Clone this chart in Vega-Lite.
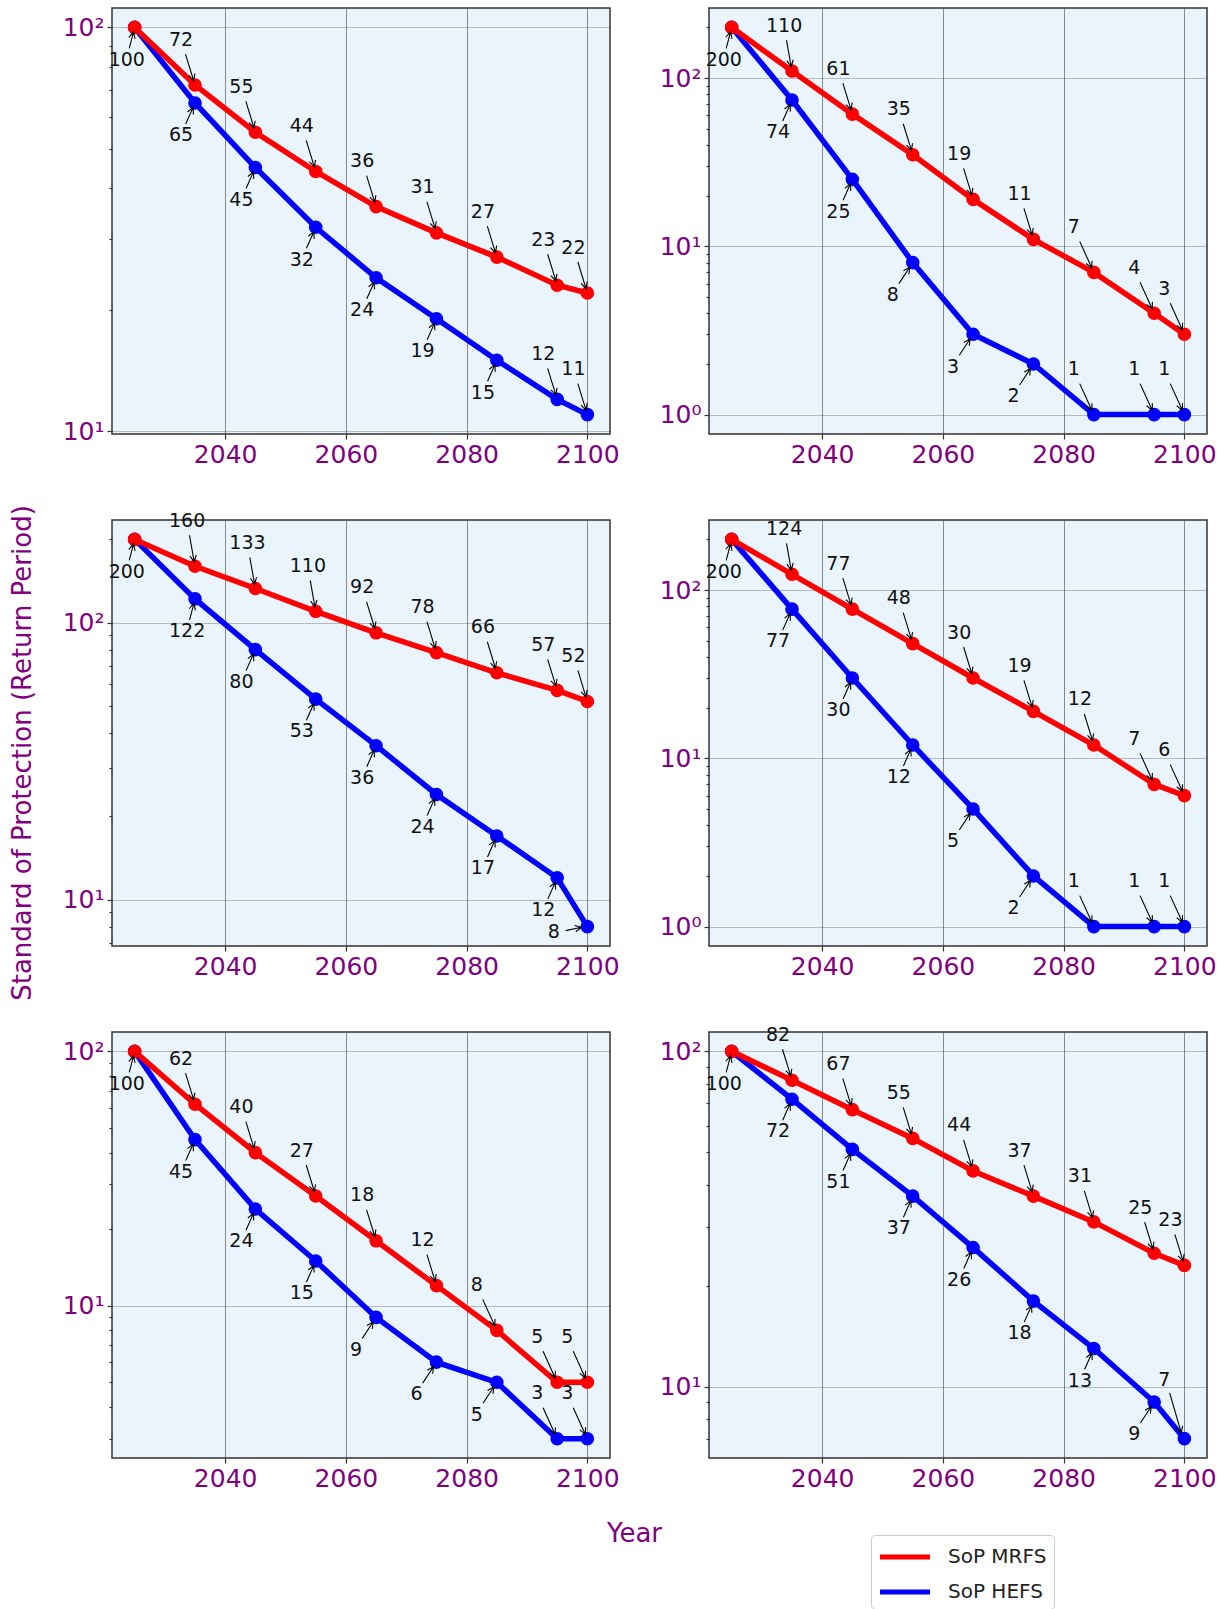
{
  "$schema": "https://vega.github.io/schema/vega-lite/v6.json",
  "background": "white",
  "padding": {"left": 8, "top": 7, "right": 5, "bottom": 5},
  "bounds": "flush",
  "columns": 2,
  "spacing": {"row": 86, "column": 99},
  "datasets": {
    "sop": [
      {"panel": 1, "series": "SoP HEFS", "year": 2025, "v": 100, "pos": "below"},
      {"panel": 1, "series": "SoP HEFS", "year": 2035, "v": 65, "pos": "below"},
      {"panel": 1, "series": "SoP HEFS", "year": 2045, "v": 45, "pos": "below"},
      {"panel": 1, "series": "SoP HEFS", "year": 2055, "v": 32, "pos": "below"},
      {"panel": 1, "series": "SoP HEFS", "year": 2065, "v": 24, "pos": "below"},
      {"panel": 1, "series": "SoP HEFS", "year": 2075, "v": 19, "pos": "below"},
      {"panel": 1, "series": "SoP HEFS", "year": 2085, "v": 15, "pos": "below"},
      {"panel": 1, "series": "SoP HEFS", "year": 2095, "v": 12, "pos": "above"},
      {"panel": 1, "series": "SoP HEFS", "year": 2100, "v": 11, "pos": "above"},
      {"panel": 1, "series": "SoP MRFS", "year": 2025, "v": 100, "pos": "none"},
      {"panel": 1, "series": "SoP MRFS", "year": 2035, "v": 72, "pos": "above"},
      {"panel": 1, "series": "SoP MRFS", "year": 2045, "v": 55, "pos": "above"},
      {"panel": 1, "series": "SoP MRFS", "year": 2055, "v": 44, "pos": "above"},
      {"panel": 1, "series": "SoP MRFS", "year": 2065, "v": 36, "pos": "above"},
      {"panel": 1, "series": "SoP MRFS", "year": 2075, "v": 31, "pos": "above"},
      {"panel": 1, "series": "SoP MRFS", "year": 2085, "v": 27, "pos": "above"},
      {"panel": 1, "series": "SoP MRFS", "year": 2095, "v": 23, "pos": "above"},
      {"panel": 1, "series": "SoP MRFS", "year": 2100, "v": 22, "pos": "above"},

      {"panel": 2, "series": "SoP HEFS", "year": 2025, "v": 200, "pos": "below"},
      {"panel": 2, "series": "SoP HEFS", "year": 2035, "v": 74, "pos": "below"},
      {"panel": 2, "series": "SoP HEFS", "year": 2045, "v": 25, "pos": "below"},
      {"panel": 2, "series": "SoP HEFS", "year": 2055, "v": 8, "pos": "below"},
      {"panel": 2, "series": "SoP HEFS", "year": 2065, "v": 3, "pos": "below"},
      {"panel": 2, "series": "SoP HEFS", "year": 2075, "v": 2, "pos": "below"},
      {"panel": 2, "series": "SoP HEFS", "year": 2085, "v": 1, "pos": "above"},
      {"panel": 2, "series": "SoP HEFS", "year": 2095, "v": 1, "pos": "above"},
      {"panel": 2, "series": "SoP HEFS", "year": 2100, "v": 1, "pos": "above"},
      {"panel": 2, "series": "SoP MRFS", "year": 2025, "v": 200, "pos": "none"},
      {"panel": 2, "series": "SoP MRFS", "year": 2035, "v": 110, "pos": "above"},
      {"panel": 2, "series": "SoP MRFS", "year": 2045, "v": 61, "pos": "above"},
      {"panel": 2, "series": "SoP MRFS", "year": 2055, "v": 35, "pos": "above"},
      {"panel": 2, "series": "SoP MRFS", "year": 2065, "v": 19, "pos": "above"},
      {"panel": 2, "series": "SoP MRFS", "year": 2075, "v": 11, "pos": "above"},
      {"panel": 2, "series": "SoP MRFS", "year": 2085, "v": 7, "pos": "above"},
      {"panel": 2, "series": "SoP MRFS", "year": 2095, "v": 4, "pos": "above"},
      {"panel": 2, "series": "SoP MRFS", "year": 2100, "v": 3, "pos": "above"},

      {"panel": 3, "series": "SoP HEFS", "year": 2025, "v": 200, "pos": "below"},
      {"panel": 3, "series": "SoP HEFS", "year": 2035, "v": 122, "pos": "below"},
      {"panel": 3, "series": "SoP HEFS", "year": 2045, "v": 80, "pos": "below"},
      {"panel": 3, "series": "SoP HEFS", "year": 2055, "v": 53, "pos": "below"},
      {"panel": 3, "series": "SoP HEFS", "year": 2065, "v": 36, "pos": "below"},
      {"panel": 3, "series": "SoP HEFS", "year": 2075, "v": 24, "pos": "below"},
      {"panel": 3, "series": "SoP HEFS", "year": 2085, "v": 17, "pos": "below"},
      {"panel": 3, "series": "SoP HEFS", "year": 2095, "v": 12, "pos": "below"},
      {"panel": 3, "series": "SoP HEFS", "year": 2100, "v": 8, "pos": "left"},
      {"panel": 3, "series": "SoP MRFS", "year": 2025, "v": 200, "pos": "none"},
      {"panel": 3, "series": "SoP MRFS", "year": 2035, "v": 160, "pos": "above"},
      {"panel": 3, "series": "SoP MRFS", "year": 2045, "v": 133, "pos": "above"},
      {"panel": 3, "series": "SoP MRFS", "year": 2055, "v": 110, "pos": "above"},
      {"panel": 3, "series": "SoP MRFS", "year": 2065, "v": 92, "pos": "above"},
      {"panel": 3, "series": "SoP MRFS", "year": 2075, "v": 78, "pos": "above"},
      {"panel": 3, "series": "SoP MRFS", "year": 2085, "v": 66, "pos": "above"},
      {"panel": 3, "series": "SoP MRFS", "year": 2095, "v": 57, "pos": "above"},
      {"panel": 3, "series": "SoP MRFS", "year": 2100, "v": 52, "pos": "above"},

      {"panel": 4, "series": "SoP HEFS", "year": 2025, "v": 200, "pos": "below"},
      {"panel": 4, "series": "SoP HEFS", "year": 2035, "v": 77, "pos": "below"},
      {"panel": 4, "series": "SoP HEFS", "year": 2045, "v": 30, "pos": "below"},
      {"panel": 4, "series": "SoP HEFS", "year": 2055, "v": 12, "pos": "below"},
      {"panel": 4, "series": "SoP HEFS", "year": 2065, "v": 5, "pos": "below"},
      {"panel": 4, "series": "SoP HEFS", "year": 2075, "v": 2, "pos": "below"},
      {"panel": 4, "series": "SoP HEFS", "year": 2085, "v": 1, "pos": "above"},
      {"panel": 4, "series": "SoP HEFS", "year": 2095, "v": 1, "pos": "above"},
      {"panel": 4, "series": "SoP HEFS", "year": 2100, "v": 1, "pos": "above"},
      {"panel": 4, "series": "SoP MRFS", "year": 2025, "v": 200, "pos": "none"},
      {"panel": 4, "series": "SoP MRFS", "year": 2035, "v": 124, "pos": "above"},
      {"panel": 4, "series": "SoP MRFS", "year": 2045, "v": 77, "pos": "above"},
      {"panel": 4, "series": "SoP MRFS", "year": 2055, "v": 48, "pos": "above"},
      {"panel": 4, "series": "SoP MRFS", "year": 2065, "v": 30, "pos": "above"},
      {"panel": 4, "series": "SoP MRFS", "year": 2075, "v": 19, "pos": "above"},
      {"panel": 4, "series": "SoP MRFS", "year": 2085, "v": 12, "pos": "above"},
      {"panel": 4, "series": "SoP MRFS", "year": 2095, "v": 7, "pos": "above"},
      {"panel": 4, "series": "SoP MRFS", "year": 2100, "v": 6, "pos": "above"},

      {"panel": 5, "series": "SoP HEFS", "year": 2025, "v": 100, "pos": "below"},
      {"panel": 5, "series": "SoP HEFS", "year": 2035, "v": 45, "pos": "below"},
      {"panel": 5, "series": "SoP HEFS", "year": 2045, "v": 24, "pos": "below"},
      {"panel": 5, "series": "SoP HEFS", "year": 2055, "v": 15, "pos": "below"},
      {"panel": 5, "series": "SoP HEFS", "year": 2065, "v": 9, "pos": "below"},
      {"panel": 5, "series": "SoP HEFS", "year": 2075, "v": 6, "pos": "below"},
      {"panel": 5, "series": "SoP HEFS", "year": 2085, "v": 5, "pos": "below"},
      {"panel": 5, "series": "SoP HEFS", "year": 2095, "v": 3, "pos": "above"},
      {"panel": 5, "series": "SoP HEFS", "year": 2100, "v": 3, "pos": "above"},
      {"panel": 5, "series": "SoP MRFS", "year": 2025, "v": 100, "pos": "none"},
      {"panel": 5, "series": "SoP MRFS", "year": 2035, "v": 62, "pos": "above"},
      {"panel": 5, "series": "SoP MRFS", "year": 2045, "v": 40, "pos": "above"},
      {"panel": 5, "series": "SoP MRFS", "year": 2055, "v": 27, "pos": "above"},
      {"panel": 5, "series": "SoP MRFS", "year": 2065, "v": 18, "pos": "above"},
      {"panel": 5, "series": "SoP MRFS", "year": 2075, "v": 12, "pos": "above"},
      {"panel": 5, "series": "SoP MRFS", "year": 2085, "v": 8, "pos": "above"},
      {"panel": 5, "series": "SoP MRFS", "year": 2095, "v": 5, "pos": "above"},
      {"panel": 5, "series": "SoP MRFS", "year": 2100, "v": 5, "pos": "above"},

      {"panel": 6, "series": "SoP HEFS", "year": 2025, "v": 100, "pos": "below"},
      {"panel": 6, "series": "SoP HEFS", "year": 2035, "v": 72, "pos": "below"},
      {"panel": 6, "series": "SoP HEFS", "year": 2045, "v": 51, "pos": "below"},
      {"panel": 6, "series": "SoP HEFS", "year": 2055, "v": 37, "pos": "below"},
      {"panel": 6, "series": "SoP HEFS", "year": 2065, "v": 26, "pos": "below"},
      {"panel": 6, "series": "SoP HEFS", "year": 2075, "v": 18, "pos": "below"},
      {"panel": 6, "series": "SoP HEFS", "year": 2085, "v": 13, "pos": "below"},
      {"panel": 6, "series": "SoP HEFS", "year": 2095, "v": 9, "pos": "below"},
      {"panel": 6, "series": "SoP HEFS", "year": 2100, "v": 7, "pos": "high"},
      {"panel": 6, "series": "SoP MRFS", "year": 2025, "v": 100, "pos": "none"},
      {"panel": 6, "series": "SoP MRFS", "year": 2035, "v": 82, "pos": "above"},
      {"panel": 6, "series": "SoP MRFS", "year": 2045, "v": 67, "pos": "above"},
      {"panel": 6, "series": "SoP MRFS", "year": 2055, "v": 55, "pos": "above"},
      {"panel": 6, "series": "SoP MRFS", "year": 2065, "v": 44, "pos": "above"},
      {"panel": 6, "series": "SoP MRFS", "year": 2075, "v": 37, "pos": "above"},
      {"panel": 6, "series": "SoP MRFS", "year": 2085, "v": 31, "pos": "above"},
      {"panel": 6, "series": "SoP MRFS", "year": 2095, "v": 25, "pos": "above"},
      {"panel": 6, "series": "SoP MRFS", "year": 2100, "v": 23, "pos": "above"}
    ]
  },
  "data": {"name": "sop"},
  "concat": [
    {
      "width": 498, "height": 426,
      "transform": [{"filter": "datum.panel == 1"}],
      "encoding": {
        "x": {"field": "year", "type": "quantitative", "scale": {"domain": [2021.25, 2103.75], "nice": false, "zero": false},
              "axis": {"values": [2040, 2060, 2080, 2100], "format": "d", "title": null, "labelFlush": false, "labelOverlap": false, "tickSize": 5, "labelPadding": 3}},
        "y": {"field": "v", "type": "quantitative", "scale": {"type": "log", "domain": [9.85, 111.7], "nice": false},
              "axis": {"values": [10, 20, 30, 40, 50, 60, 70, 80, 90, 100], "title": null,
                       "labelExpr": "datum.value == 1 ? '10⁰' : datum.value == 10 ? '10¹' : datum.value == 100 ? '10²' : ''",
                       "tickSize": {"condition": {"test": "datum.value == 1 || datum.value == 10 || datum.value == 100", "value": 5}, "value": 3},
                       "gridOpacity": {"condition": {"test": "datum.value == 1 || datum.value == 10 || datum.value == 100", "value": 0.55}, "value": 0},
                       "labelOverlap": false, "labelFlush": false, "labelPadding": 3}}
      },
      "layer": [
        {"mark": {"type": "line", "strokeWidth": 5.5, "point": {"filled": true, "size": 185, "opacity": 1}},
         "encoding": {"color": {"field": "series", "type": "nominal", "scale": {"domain": ["SoP MRFS", "SoP HEFS"], "range": ["#ff0000", "#0000ff"]},
                                "legend": {"title": null, "orient": "none", "legendX": 759, "legendY": 1527, "symbolType": "M-2,0H2", "symbolStrokeWidth": 5, "symbolSize": 625, "symbolOffset": 12, "labelFontSize": 20, "labelFont": "DejaVu Sans", "labelColor": "#222", "strokeColor": "#cccccc", "fillColor": "white", "padding": 7, "cornerRadius": 4, "labelOffset": 28, "rowPadding": 10}}}},
        {"transform": [{"filter": "datum.pos != 'none'"}],
         "mark": {"type": "point", "size": 4, "filled": false, "stroke": "black", "strokeWidth": 1.1, "opacity": 1},
         "encoding": {"shape": {"condition": [
           {"test": "datum.pos == 'above' && datum.v < 10", "value": "M-14.1,-31L-2,-4.3M-1.8,-11.5L-2,-4.3L-7.6,-8.9"},
           {"test": "datum.pos == 'above' && datum.v < 100", "value": "M-9.5,-31L-1.3,-4.3M-0.2,-11.5L-1.3,-4.3L-6.3,-9.6"},
           {"test": "datum.pos == 'above'", "value": "M-5.5,-31L-0.8,-4.3M1.2,-11.3L-0.8,-4.3L-5.1,-10.2"},
           {"test": "datum.pos == 'below' && datum.v < 10", "value": "M-13.8,21L-2.9,4.4M-9.2,8.1L-2.9,4.4L-3.8,11.6"},
           {"test": "datum.pos == 'below' && datum.v < 100", "value": "M-9.3,21L-1.9,4.4M-7.5,9L-1.9,4.4L-1.6,11.6"},
           {"test": "datum.pos == 'below'", "value": "M-5.4,21L-1.1,4.4M-5.8,9.9L-1.1,4.4L0.4,11.5"},
           {"test": "datum.pos == 'left'", "value": "M-21.7,4L-5.9,0.6M-12.9,-1.2L-5.9,0.6L-11.6,5.1"}],
           "value": "M-14.7,-45.7L-3.1,-5.7M-1.8,-12.8L-3.1,-5.7L-8,-11.1"}}},
        {"transform": [{"filter": "datum.pos == 'above'"}], "mark": {"type": "text", "align": "left", "baseline": "middle", "dx": -26, "dy": -45.5, "fontSize": 19, "font": "DejaVu Sans", "color": "#111"}, "encoding": {"text": {"field": "v", "type": "quantitative", "format": "d"}}},
        {"transform": [{"filter": "datum.pos == 'below'"}], "mark": {"type": "text", "align": "left", "baseline": "middle", "dx": -26, "dy": 32.3, "fontSize": 19, "font": "DejaVu Sans", "color": "#111"}, "encoding": {"text": {"field": "v", "type": "quantitative", "format": "d"}}},
        {"transform": [{"filter": "datum.pos == 'left'"}], "mark": {"type": "text", "align": "left", "baseline": "middle", "dx": -39.6, "dy": 5.6, "fontSize": 19, "font": "DejaVu Sans", "color": "#111"}, "encoding": {"text": {"field": "v", "type": "quantitative", "format": "d"}}},
        {"transform": [{"filter": "datum.pos == 'high'"}], "mark": {"type": "text", "align": "left", "baseline": "middle", "dx": -26, "dy": -59, "fontSize": 19, "font": "DejaVu Sans", "color": "#111"}, "encoding": {"text": {"field": "v", "type": "quantitative", "format": "d"}}}
      ]
    },
    {
      "width": 498, "height": 426,
      "transform": [{"filter": "datum.panel == 2"}],
      "encoding": {
        "x": {"field": "year", "type": "quantitative", "scale": {"domain": [2021.25, 2103.75], "nice": false, "zero": false},
              "axis": {"values": [2040, 2060, 2080, 2100], "format": "d", "title": null, "labelFlush": false, "labelOverlap": false, "tickSize": 5, "labelPadding": 3}},
        "y": {"field": "v", "type": "quantitative", "scale": {"type": "log", "domain": [0.767, 260.6], "nice": false},
              "axis": {"values": [1, 2, 3, 4, 5, 6, 7, 8, 9, 10, 20, 30, 40, 50, 60, 70, 80, 90, 100, 200], "title": null,
                       "labelExpr": "datum.value == 1 ? '10⁰' : datum.value == 10 ? '10¹' : datum.value == 100 ? '10²' : ''",
                       "tickSize": {"condition": {"test": "datum.value == 1 || datum.value == 10 || datum.value == 100", "value": 5}, "value": 3},
                       "gridOpacity": {"condition": {"test": "datum.value == 1 || datum.value == 10 || datum.value == 100", "value": 0.55}, "value": 0},
                       "labelOverlap": false, "labelFlush": false, "labelPadding": 3}}
      },
      "layer": [
        {"mark": {"type": "line", "strokeWidth": 5.5, "point": {"filled": true, "size": 185, "opacity": 1}},
         "encoding": {"color": {"field": "series", "type": "nominal", "scale": {"domain": ["SoP MRFS", "SoP HEFS"], "range": ["#ff0000", "#0000ff"]},
                                "legend": {"title": null, "orient": "none", "legendX": 759, "legendY": 1527, "symbolType": "M-2,0H2", "symbolStrokeWidth": 5, "symbolSize": 625, "symbolOffset": 12, "labelFontSize": 20, "labelFont": "DejaVu Sans", "labelColor": "#222", "strokeColor": "#cccccc", "fillColor": "white", "padding": 7, "cornerRadius": 4, "labelOffset": 28, "rowPadding": 10}}}},
        {"transform": [{"filter": "datum.pos != 'none'"}],
         "mark": {"type": "point", "size": 4, "filled": false, "stroke": "black", "strokeWidth": 1.1, "opacity": 1},
         "encoding": {"shape": {"condition": [
           {"test": "datum.pos == 'above' && datum.v < 10", "value": "M-14.1,-31L-2,-4.3M-1.8,-11.5L-2,-4.3L-7.6,-8.9"},
           {"test": "datum.pos == 'above' && datum.v < 100", "value": "M-9.5,-31L-1.3,-4.3M-0.2,-11.5L-1.3,-4.3L-6.3,-9.6"},
           {"test": "datum.pos == 'above'", "value": "M-5.5,-31L-0.8,-4.3M1.2,-11.3L-0.8,-4.3L-5.1,-10.2"},
           {"test": "datum.pos == 'below' && datum.v < 10", "value": "M-13.8,21L-2.9,4.4M-9.2,8.1L-2.9,4.4L-3.8,11.6"},
           {"test": "datum.pos == 'below' && datum.v < 100", "value": "M-9.3,21L-1.9,4.4M-7.5,9L-1.9,4.4L-1.6,11.6"},
           {"test": "datum.pos == 'below'", "value": "M-5.4,21L-1.1,4.4M-5.8,9.9L-1.1,4.4L0.4,11.5"},
           {"test": "datum.pos == 'left'", "value": "M-21.7,4L-5.9,0.6M-12.9,-1.2L-5.9,0.6L-11.6,5.1"}],
           "value": "M-14.7,-45.7L-3.1,-5.7M-1.8,-12.8L-3.1,-5.7L-8,-11.1"}}},
        {"transform": [{"filter": "datum.pos == 'above'"}], "mark": {"type": "text", "align": "left", "baseline": "middle", "dx": -26, "dy": -45.5, "fontSize": 19, "font": "DejaVu Sans", "color": "#111"}, "encoding": {"text": {"field": "v", "type": "quantitative", "format": "d"}}},
        {"transform": [{"filter": "datum.pos == 'below'"}], "mark": {"type": "text", "align": "left", "baseline": "middle", "dx": -26, "dy": 32.3, "fontSize": 19, "font": "DejaVu Sans", "color": "#111"}, "encoding": {"text": {"field": "v", "type": "quantitative", "format": "d"}}},
        {"transform": [{"filter": "datum.pos == 'left'"}], "mark": {"type": "text", "align": "left", "baseline": "middle", "dx": -39.6, "dy": 5.6, "fontSize": 19, "font": "DejaVu Sans", "color": "#111"}, "encoding": {"text": {"field": "v", "type": "quantitative", "format": "d"}}},
        {"transform": [{"filter": "datum.pos == 'high'"}], "mark": {"type": "text", "align": "left", "baseline": "middle", "dx": -26, "dy": -59, "fontSize": 19, "font": "DejaVu Sans", "color": "#111"}, "encoding": {"text": {"field": "v", "type": "quantitative", "format": "d"}}}
      ]
    },
    {
      "width": 498, "height": 426,
      "transform": [{"filter": "datum.panel == 3"}],
      "encoding": {
        "x": {"field": "year", "type": "quantitative", "scale": {"domain": [2021.25, 2103.75], "nice": false, "zero": false},
              "axis": {"values": [2040, 2060, 2080, 2100], "format": "d", "title": null, "labelFlush": false, "labelOverlap": false, "tickSize": 5, "labelPadding": 3}},
        "y": {"field": "v", "type": "quantitative", "scale": {"type": "log", "domain": [6.81, 235], "nice": false},
              "axis": {"values": [7, 8, 9, 10, 20, 30, 40, 50, 60, 70, 80, 90, 100, 200],
                       "title": "Standard of Protection (Return Period)", "titleX": -90, "titleY": 232.5, "titleAngle": -90, "titleAlign": "center", "titleBaseline": "middle",
                       "labelExpr": "datum.value == 1 ? '10⁰' : datum.value == 10 ? '10¹' : datum.value == 100 ? '10²' : ''",
                       "tickSize": {"condition": {"test": "datum.value == 1 || datum.value == 10 || datum.value == 100", "value": 5}, "value": 3},
                       "gridOpacity": {"condition": {"test": "datum.value == 1 || datum.value == 10 || datum.value == 100", "value": 0.55}, "value": 0},
                       "labelOverlap": false, "labelFlush": false, "labelPadding": 3}}
      },
      "layer": [
        {"mark": {"type": "line", "strokeWidth": 5.5, "point": {"filled": true, "size": 185, "opacity": 1}},
         "encoding": {"color": {"field": "series", "type": "nominal", "scale": {"domain": ["SoP MRFS", "SoP HEFS"], "range": ["#ff0000", "#0000ff"]},
                                "legend": {"title": null, "orient": "none", "legendX": 759, "legendY": 1527, "symbolType": "M-2,0H2", "symbolStrokeWidth": 5, "symbolSize": 625, "symbolOffset": 12, "labelFontSize": 20, "labelFont": "DejaVu Sans", "labelColor": "#222", "strokeColor": "#cccccc", "fillColor": "white", "padding": 7, "cornerRadius": 4, "labelOffset": 28, "rowPadding": 10}}}},
        {"transform": [{"filter": "datum.pos != 'none'"}],
         "mark": {"type": "point", "size": 4, "filled": false, "stroke": "black", "strokeWidth": 1.1, "opacity": 1},
         "encoding": {"shape": {"condition": [
           {"test": "datum.pos == 'above' && datum.v < 10", "value": "M-14.1,-31L-2,-4.3M-1.8,-11.5L-2,-4.3L-7.6,-8.9"},
           {"test": "datum.pos == 'above' && datum.v < 100", "value": "M-9.5,-31L-1.3,-4.3M-0.2,-11.5L-1.3,-4.3L-6.3,-9.6"},
           {"test": "datum.pos == 'above'", "value": "M-5.5,-31L-0.8,-4.3M1.2,-11.3L-0.8,-4.3L-5.1,-10.2"},
           {"test": "datum.pos == 'below' && datum.v < 10", "value": "M-13.8,21L-2.9,4.4M-9.2,8.1L-2.9,4.4L-3.8,11.6"},
           {"test": "datum.pos == 'below' && datum.v < 100", "value": "M-9.3,21L-1.9,4.4M-7.5,9L-1.9,4.4L-1.6,11.6"},
           {"test": "datum.pos == 'below'", "value": "M-5.4,21L-1.1,4.4M-5.8,9.9L-1.1,4.4L0.4,11.5"},
           {"test": "datum.pos == 'left'", "value": "M-21.7,4L-5.9,0.6M-12.9,-1.2L-5.9,0.6L-11.6,5.1"}],
           "value": "M-14.7,-45.7L-3.1,-5.7M-1.8,-12.8L-3.1,-5.7L-8,-11.1"}}},
        {"transform": [{"filter": "datum.pos == 'above'"}], "mark": {"type": "text", "align": "left", "baseline": "middle", "dx": -26, "dy": -45.5, "fontSize": 19, "font": "DejaVu Sans", "color": "#111"}, "encoding": {"text": {"field": "v", "type": "quantitative", "format": "d"}}},
        {"transform": [{"filter": "datum.pos == 'below'"}], "mark": {"type": "text", "align": "left", "baseline": "middle", "dx": -26, "dy": 32.3, "fontSize": 19, "font": "DejaVu Sans", "color": "#111"}, "encoding": {"text": {"field": "v", "type": "quantitative", "format": "d"}}},
        {"transform": [{"filter": "datum.pos == 'left'"}], "mark": {"type": "text", "align": "left", "baseline": "middle", "dx": -39.6, "dy": 5.6, "fontSize": 19, "font": "DejaVu Sans", "color": "#111"}, "encoding": {"text": {"field": "v", "type": "quantitative", "format": "d"}}},
        {"transform": [{"filter": "datum.pos == 'high'"}], "mark": {"type": "text", "align": "left", "baseline": "middle", "dx": -26, "dy": -59, "fontSize": 19, "font": "DejaVu Sans", "color": "#111"}, "encoding": {"text": {"field": "v", "type": "quantitative", "format": "d"}}}
      ]
    },
    {
      "width": 498, "height": 426,
      "transform": [{"filter": "datum.panel == 4"}],
      "encoding": {
        "x": {"field": "year", "type": "quantitative", "scale": {"domain": [2021.25, 2103.75], "nice": false, "zero": false},
              "axis": {"values": [2040, 2060, 2080, 2100], "format": "d", "title": null, "labelFlush": false, "labelOverlap": false, "tickSize": 5, "labelPadding": 3}},
        "y": {"field": "v", "type": "quantitative", "scale": {"type": "log", "domain": [0.767, 260.6], "nice": false},
              "axis": {"values": [1, 2, 3, 4, 5, 6, 7, 8, 9, 10, 20, 30, 40, 50, 60, 70, 80, 90, 100, 200], "title": null,
                       "labelExpr": "datum.value == 1 ? '10⁰' : datum.value == 10 ? '10¹' : datum.value == 100 ? '10²' : ''",
                       "tickSize": {"condition": {"test": "datum.value == 1 || datum.value == 10 || datum.value == 100", "value": 5}, "value": 3},
                       "gridOpacity": {"condition": {"test": "datum.value == 1 || datum.value == 10 || datum.value == 100", "value": 0.55}, "value": 0},
                       "labelOverlap": false, "labelFlush": false, "labelPadding": 3}}
      },
      "layer": [
        {"mark": {"type": "line", "strokeWidth": 5.5, "point": {"filled": true, "size": 185, "opacity": 1}},
         "encoding": {"color": {"field": "series", "type": "nominal", "scale": {"domain": ["SoP MRFS", "SoP HEFS"], "range": ["#ff0000", "#0000ff"]},
                                "legend": {"title": null, "orient": "none", "legendX": 759, "legendY": 1527, "symbolType": "M-2,0H2", "symbolStrokeWidth": 5, "symbolSize": 625, "symbolOffset": 12, "labelFontSize": 20, "labelFont": "DejaVu Sans", "labelColor": "#222", "strokeColor": "#cccccc", "fillColor": "white", "padding": 7, "cornerRadius": 4, "labelOffset": 28, "rowPadding": 10}}}},
        {"transform": [{"filter": "datum.pos != 'none'"}],
         "mark": {"type": "point", "size": 4, "filled": false, "stroke": "black", "strokeWidth": 1.1, "opacity": 1},
         "encoding": {"shape": {"condition": [
           {"test": "datum.pos == 'above' && datum.v < 10", "value": "M-14.1,-31L-2,-4.3M-1.8,-11.5L-2,-4.3L-7.6,-8.9"},
           {"test": "datum.pos == 'above' && datum.v < 100", "value": "M-9.5,-31L-1.3,-4.3M-0.2,-11.5L-1.3,-4.3L-6.3,-9.6"},
           {"test": "datum.pos == 'above'", "value": "M-5.5,-31L-0.8,-4.3M1.2,-11.3L-0.8,-4.3L-5.1,-10.2"},
           {"test": "datum.pos == 'below' && datum.v < 10", "value": "M-13.8,21L-2.9,4.4M-9.2,8.1L-2.9,4.4L-3.8,11.6"},
           {"test": "datum.pos == 'below' && datum.v < 100", "value": "M-9.3,21L-1.9,4.4M-7.5,9L-1.9,4.4L-1.6,11.6"},
           {"test": "datum.pos == 'below'", "value": "M-5.4,21L-1.1,4.4M-5.8,9.9L-1.1,4.4L0.4,11.5"},
           {"test": "datum.pos == 'left'", "value": "M-21.7,4L-5.9,0.6M-12.9,-1.2L-5.9,0.6L-11.6,5.1"}],
           "value": "M-14.7,-45.7L-3.1,-5.7M-1.8,-12.8L-3.1,-5.7L-8,-11.1"}}},
        {"transform": [{"filter": "datum.pos == 'above'"}], "mark": {"type": "text", "align": "left", "baseline": "middle", "dx": -26, "dy": -45.5, "fontSize": 19, "font": "DejaVu Sans", "color": "#111"}, "encoding": {"text": {"field": "v", "type": "quantitative", "format": "d"}}},
        {"transform": [{"filter": "datum.pos == 'below'"}], "mark": {"type": "text", "align": "left", "baseline": "middle", "dx": -26, "dy": 32.3, "fontSize": 19, "font": "DejaVu Sans", "color": "#111"}, "encoding": {"text": {"field": "v", "type": "quantitative", "format": "d"}}},
        {"transform": [{"filter": "datum.pos == 'left'"}], "mark": {"type": "text", "align": "left", "baseline": "middle", "dx": -39.6, "dy": 5.6, "fontSize": 19, "font": "DejaVu Sans", "color": "#111"}, "encoding": {"text": {"field": "v", "type": "quantitative", "format": "d"}}},
        {"transform": [{"filter": "datum.pos == 'high'"}], "mark": {"type": "text", "align": "left", "baseline": "middle", "dx": -26, "dy": -59, "fontSize": 19, "font": "DejaVu Sans", "color": "#111"}, "encoding": {"text": {"field": "v", "type": "quantitative", "format": "d"}}}
      ]
    },
    {
      "width": 498, "height": 426,
      "transform": [{"filter": "datum.panel == 5"}],
      "encoding": {
        "x": {"field": "year", "type": "quantitative", "scale": {"domain": [2021.25, 2103.75], "nice": false, "zero": false},
              "axis": {"values": [2040, 2060, 2080, 2100], "format": "d", "title": "Year", "titleX": 522, "titleY": 75, "titleAlign": "center", "titleBaseline": "middle", "labelFlush": false, "labelOverlap": false, "tickSize": 5, "labelPadding": 3}},
        "y": {"field": "v", "type": "quantitative", "scale": {"type": "log", "domain": [2.52, 119.2], "nice": false},
              "axis": {"values": [3, 4, 5, 6, 7, 8, 9, 10, 20, 30, 40, 50, 60, 70, 80, 90, 100], "title": null,
                       "labelExpr": "datum.value == 1 ? '10⁰' : datum.value == 10 ? '10¹' : datum.value == 100 ? '10²' : ''",
                       "tickSize": {"condition": {"test": "datum.value == 1 || datum.value == 10 || datum.value == 100", "value": 5}, "value": 3},
                       "gridOpacity": {"condition": {"test": "datum.value == 1 || datum.value == 10 || datum.value == 100", "value": 0.55}, "value": 0},
                       "labelOverlap": false, "labelFlush": false, "labelPadding": 3}}
      },
      "layer": [
        {"mark": {"type": "line", "strokeWidth": 5.5, "point": {"filled": true, "size": 185, "opacity": 1}},
         "encoding": {"color": {"field": "series", "type": "nominal", "scale": {"domain": ["SoP MRFS", "SoP HEFS"], "range": ["#ff0000", "#0000ff"]},
                                "legend": {"title": null, "orient": "none", "legendX": 759, "legendY": 1527, "symbolType": "M-2,0H2", "symbolStrokeWidth": 5, "symbolSize": 625, "symbolOffset": 12, "labelFontSize": 20, "labelFont": "DejaVu Sans", "labelColor": "#222", "strokeColor": "#cccccc", "fillColor": "white", "padding": 7, "cornerRadius": 4, "labelOffset": 28, "rowPadding": 10}}}},
        {"transform": [{"filter": "datum.pos != 'none'"}],
         "mark": {"type": "point", "size": 4, "filled": false, "stroke": "black", "strokeWidth": 1.1, "opacity": 1},
         "encoding": {"shape": {"condition": [
           {"test": "datum.pos == 'above' && datum.v < 10", "value": "M-14.1,-31L-2,-4.3M-1.8,-11.5L-2,-4.3L-7.6,-8.9"},
           {"test": "datum.pos == 'above' && datum.v < 100", "value": "M-9.5,-31L-1.3,-4.3M-0.2,-11.5L-1.3,-4.3L-6.3,-9.6"},
           {"test": "datum.pos == 'above'", "value": "M-5.5,-31L-0.8,-4.3M1.2,-11.3L-0.8,-4.3L-5.1,-10.2"},
           {"test": "datum.pos == 'below' && datum.v < 10", "value": "M-13.8,21L-2.9,4.4M-9.2,8.1L-2.9,4.4L-3.8,11.6"},
           {"test": "datum.pos == 'below' && datum.v < 100", "value": "M-9.3,21L-1.9,4.4M-7.5,9L-1.9,4.4L-1.6,11.6"},
           {"test": "datum.pos == 'below'", "value": "M-5.4,21L-1.1,4.4M-5.8,9.9L-1.1,4.4L0.4,11.5"},
           {"test": "datum.pos == 'left'", "value": "M-21.7,4L-5.9,0.6M-12.9,-1.2L-5.9,0.6L-11.6,5.1"}],
           "value": "M-14.7,-45.7L-3.1,-5.7M-1.8,-12.8L-3.1,-5.7L-8,-11.1"}}},
        {"transform": [{"filter": "datum.pos == 'above'"}], "mark": {"type": "text", "align": "left", "baseline": "middle", "dx": -26, "dy": -45.5, "fontSize": 19, "font": "DejaVu Sans", "color": "#111"}, "encoding": {"text": {"field": "v", "type": "quantitative", "format": "d"}}},
        {"transform": [{"filter": "datum.pos == 'below'"}], "mark": {"type": "text", "align": "left", "baseline": "middle", "dx": -26, "dy": 32.3, "fontSize": 19, "font": "DejaVu Sans", "color": "#111"}, "encoding": {"text": {"field": "v", "type": "quantitative", "format": "d"}}},
        {"transform": [{"filter": "datum.pos == 'left'"}], "mark": {"type": "text", "align": "left", "baseline": "middle", "dx": -39.6, "dy": 5.6, "fontSize": 19, "font": "DejaVu Sans", "color": "#111"}, "encoding": {"text": {"field": "v", "type": "quantitative", "format": "d"}}},
        {"transform": [{"filter": "datum.pos == 'high'"}], "mark": {"type": "text", "align": "left", "baseline": "middle", "dx": -26, "dy": -59, "fontSize": 19, "font": "DejaVu Sans", "color": "#111"}, "encoding": {"text": {"field": "v", "type": "quantitative", "format": "d"}}}
      ]
    },
    {
      "width": 498, "height": 426,
      "transform": [{"filter": "datum.panel == 6"}],
      "encoding": {
        "x": {"field": "year", "type": "quantitative", "scale": {"domain": [2021.25, 2103.75], "nice": false, "zero": false},
              "axis": {"values": [2040, 2060, 2080, 2100], "format": "d", "title": null, "labelFlush": false, "labelOverlap": false, "tickSize": 5, "labelPadding": 3}},
        "y": {"field": "v", "type": "quantitative", "scale": {"type": "log", "domain": [6.13, 114.2], "nice": false},
              "axis": {"values": [7, 8, 9, 10, 20, 30, 40, 50, 60, 70, 80, 90, 100], "title": null,
                       "labelExpr": "datum.value == 1 ? '10⁰' : datum.value == 10 ? '10¹' : datum.value == 100 ? '10²' : ''",
                       "tickSize": {"condition": {"test": "datum.value == 1 || datum.value == 10 || datum.value == 100", "value": 5}, "value": 3},
                       "gridOpacity": {"condition": {"test": "datum.value == 1 || datum.value == 10 || datum.value == 100", "value": 0.55}, "value": 0},
                       "labelOverlap": false, "labelFlush": false, "labelPadding": 3}}
      },
      "layer": [
        {"mark": {"type": "line", "strokeWidth": 5.5, "point": {"filled": true, "size": 185, "opacity": 1}},
         "encoding": {"color": {"field": "series", "type": "nominal", "scale": {"domain": ["SoP MRFS", "SoP HEFS"], "range": ["#ff0000", "#0000ff"]},
                                "legend": {"title": null, "orient": "none", "legendX": 759, "legendY": 1527, "symbolType": "M-2,0H2", "symbolStrokeWidth": 5, "symbolSize": 625, "symbolOffset": 12, "labelFontSize": 20, "labelFont": "DejaVu Sans", "labelColor": "#222", "strokeColor": "#cccccc", "fillColor": "white", "padding": 7, "cornerRadius": 4, "labelOffset": 28, "rowPadding": 10}}}},
        {"transform": [{"filter": "datum.pos != 'none'"}],
         "mark": {"type": "point", "size": 4, "filled": false, "stroke": "black", "strokeWidth": 1.1, "opacity": 1},
         "encoding": {"shape": {"condition": [
           {"test": "datum.pos == 'above' && datum.v < 10", "value": "M-14.1,-31L-2,-4.3M-1.8,-11.5L-2,-4.3L-7.6,-8.9"},
           {"test": "datum.pos == 'above' && datum.v < 100", "value": "M-9.5,-31L-1.3,-4.3M-0.2,-11.5L-1.3,-4.3L-6.3,-9.6"},
           {"test": "datum.pos == 'above'", "value": "M-5.5,-31L-0.8,-4.3M1.2,-11.3L-0.8,-4.3L-5.1,-10.2"},
           {"test": "datum.pos == 'below' && datum.v < 10", "value": "M-13.8,21L-2.9,4.4M-9.2,8.1L-2.9,4.4L-3.8,11.6"},
           {"test": "datum.pos == 'below' && datum.v < 100", "value": "M-9.3,21L-1.9,4.4M-7.5,9L-1.9,4.4L-1.6,11.6"},
           {"test": "datum.pos == 'below'", "value": "M-5.4,21L-1.1,4.4M-5.8,9.9L-1.1,4.4L0.4,11.5"},
           {"test": "datum.pos == 'left'", "value": "M-21.7,4L-5.9,0.6M-12.9,-1.2L-5.9,0.6L-11.6,5.1"}],
           "value": "M-14.7,-45.7L-3.1,-5.7M-1.8,-12.8L-3.1,-5.7L-8,-11.1"}}},
        {"transform": [{"filter": "datum.pos == 'above'"}], "mark": {"type": "text", "align": "left", "baseline": "middle", "dx": -26, "dy": -45.5, "fontSize": 19, "font": "DejaVu Sans", "color": "#111"}, "encoding": {"text": {"field": "v", "type": "quantitative", "format": "d"}}},
        {"transform": [{"filter": "datum.pos == 'below'"}], "mark": {"type": "text", "align": "left", "baseline": "middle", "dx": -26, "dy": 32.3, "fontSize": 19, "font": "DejaVu Sans", "color": "#111"}, "encoding": {"text": {"field": "v", "type": "quantitative", "format": "d"}}},
        {"transform": [{"filter": "datum.pos == 'left'"}], "mark": {"type": "text", "align": "left", "baseline": "middle", "dx": -39.6, "dy": 5.6, "fontSize": 19, "font": "DejaVu Sans", "color": "#111"}, "encoding": {"text": {"field": "v", "type": "quantitative", "format": "d"}}},
        {"transform": [{"filter": "datum.pos == 'high'"}], "mark": {"type": "text", "align": "left", "baseline": "middle", "dx": -26, "dy": -59, "fontSize": 19, "font": "DejaVu Sans", "color": "#111"}, "encoding": {"text": {"field": "v", "type": "quantitative", "format": "d"}}}
      ]
    }
  ],
  "config": {
    "view": {"fill": "#EAF4FD", "stroke": "#333333", "strokeWidth": 1.5},
    "axis": {"labelFont": "DejaVu Sans", "labelFontSize": 25, "labelColor": "#800080", "titleFont": "DejaVu Sans", "titleFontSize": 26, "titleColor": "#800080", "titleFontWeight": "normal",
             "domain": false, "tickColor": "#333333", "tickWidth": 1.2, "gridColor": "#333333", "gridWidth": 1, "gridOpacity": 0.55}
  }
}
